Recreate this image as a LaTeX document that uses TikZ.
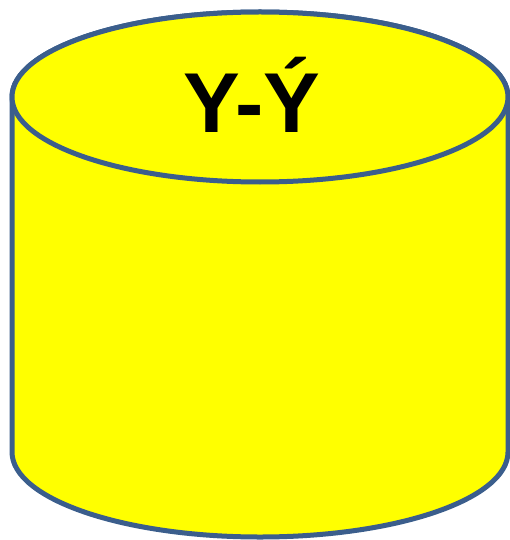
\documentclass[tikz,border=0pt]{standalone}
\usepackage{fontspec}
\setmainfont{Liberation Sans}
\usepackage{tikz}
\usetikzlibrary{positioning}
\definecolor{rimblue}{RGB}{59,94,140}
\definecolor{tankyellow}{RGB}{255,255,0}

\begin{document}
\begin{tikzpicture}[
  x=1pt, y=1pt,
  tank/.style={draw=rimblue, fill=tankyellow, line width=5pt, line join=round},
  label/.style={font=\fontsize{85}{90}\selectfont\bfseries, text=black, inner sep=0pt},
]
\useasboundingbox (0,0) rectangle (510,-540);
% ---- body of the cylinder ----
\path[tank] (12,-97) -- (12,-452) arc[start angle=180, end angle=360, x radius=248, y radius=85]
  -- (508,-97) arc[start angle=0, end angle=180, x radius=248, y radius=85] -- cycle;
% ---- top face ----
\path[tank] (260,-97) ellipse[x radius=248, y radius=85];
\coordinate (top) at (252,-95);
\node[label, anchor=center] (name) at (top) {Y-Ý};
\end{tikzpicture}
\end{document}
